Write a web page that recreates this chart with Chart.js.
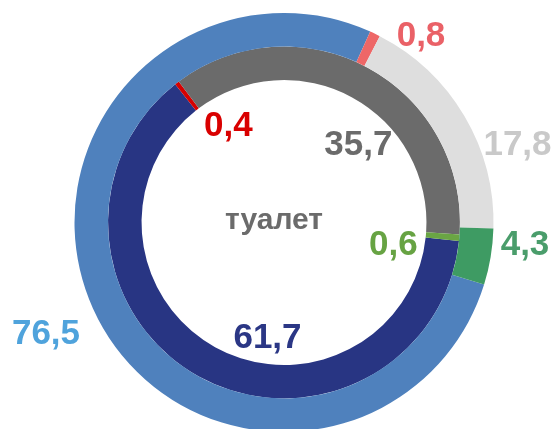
<!DOCTYPE html>
<html>
<head>
<meta charset="utf-8">
<script src="https://cdn.jsdelivr.net/npm/chart.js@4.4.1/dist/chart.umd.min.js"></script>
<style>
  html, body { margin: 0; padding: 0; background: #ffffff; overflow: hidden; }
  #wrap { width: 556px; height: 445px; }
</style>
</head>
<body>
<div id="wrap"><canvas id="c" width="556" height="445"></canvas></div>
<script>
// Ring data (outer ring first, then inner ring)
const categories = ['Категория 1', 'Категория 2', 'Категория 3', 'Категория 4'];
const outerValues = [76.5, 0.8, 17.8, 4.3];
const innerValues = [61.7, 0.4, 35.7, 0.6];
const centerText = 'туалет';

// Slice colours
const outerColors = ['#4f81bd', '#ee6767', '#dedede', '#3e9b63'];
const innerColors = ['#283583', '#d60000', '#6b6b6b', '#6aa544'];
// Value label colours
const outerLabelColors = ['#4fa3dc', '#ea6167', '#c9c9c9', '#4a9d6b'];
const innerLabelColors = ['#2b3785', '#d90000', '#6b6b6b', '#67a343'];
// Label anchors relative to the chart centre: [dx, baseline dy]
const outerLabelPos = [[-238, 121], [137, -177], [233.5, -67.5], [241, 32.5]];
const innerLabelPos = [[-16.5, 125], [-55.7, -87], [74.3, -67.5], [109.3, 32.5]];
const centerTextPos = [-10, 6];

const fmt = v => v.toFixed(1).replace('.', ',');

const labelPlugin = {
  id: 'ringLabels',
  afterDatasetsDraw(chart) {
    const ctx = chart.ctx;
    const arc = chart.getDatasetMeta(0).data[0];
    const cx = arc.x, cy = arc.y;
    ctx.save();
    ctx.textAlign = 'center';
    ctx.textBaseline = 'alphabetic';
    ctx.font = 'bold 35px "Liberation Sans", Arial, sans-serif';
    const sets = [
      [outerValues, outerLabelColors, outerLabelPos],
      [innerValues, innerLabelColors, innerLabelPos]
    ];
    sets.forEach(([vals, cols, pos]) => {
      vals.forEach((v, i) => {
        ctx.fillStyle = cols[i];
        ctx.fillText(fmt(v), cx + pos[i][0], cy + pos[i][1]);
      });
    });
    ctx.font = 'bold 30px "Liberation Sans", Arial, sans-serif';
    ctx.fillStyle = '#6b6b6b';
    ctx.fillText(centerText, cx + centerTextPos[0], cy + centerTextPos[1]);
    ctx.restore();
  }
};

new Chart(document.getElementById('c'), {
  type: 'doughnut',
  data: {
    labels: categories,
    datasets: [
      {
        data: outerValues,
        backgroundColor: outerColors,
        borderWidth: 0,
        rotation: -252.76
      },
      {
        data: innerValues,
        backgroundColor: innerColors,
        borderWidth: 0,
        rotation: 96.07
      }
    ]
  },
  options: {
    responsive: false,
    animation: false,
    devicePixelRatio: 1,
    cutout: '68%',
    layout: { padding: { top: 13, bottom: 13, left: 12, right: 0 } },
    plugins: {
      legend: { display: false },
      tooltip: { enabled: false },
      title: { display: false }
    }
  },
  plugins: [labelPlugin]
});
</script>
</body>
</html>
